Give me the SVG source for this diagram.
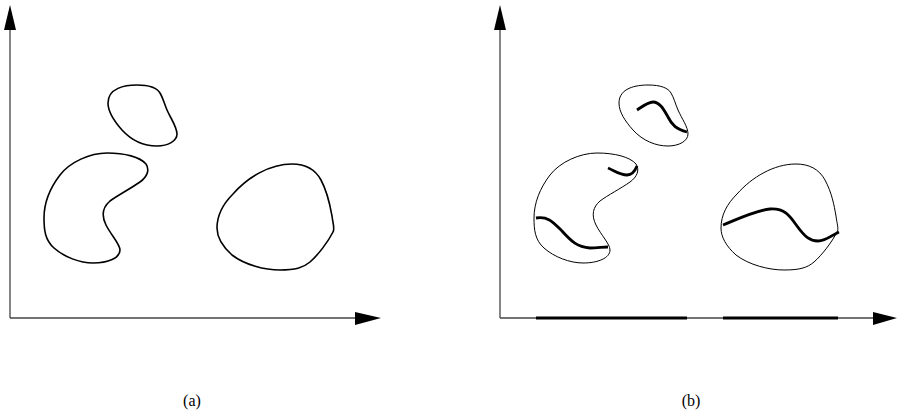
<svg xmlns="http://www.w3.org/2000/svg" width="897" height="420" viewBox="0 0 897 420">
<defs>
<style>
.axis{stroke:#444;stroke-width:1.3;fill:none}
.head{fill:#000;stroke:none}
.blobA{fill:none;stroke:#000;stroke-width:1.6}
.blobB{fill:none;stroke:#000;stroke-width:1}
.thick{fill:none;stroke:#000;stroke-width:2.8;stroke-linecap:butt}
.lbl{font-family:"Liberation Serif","DejaVu Serif",serif;font-size:16px;fill:#000;text-anchor:middle}
</style>
<path id="small" d="M108,103 C108,88 125,85 137,85 C150,85 157,88 160,93 C163,98 164,103 167,110 C171,119 177,127 177,134 C177,141 168,146 157,146 C145,146 132,141 122,130 C114,121 108,112 108,103 Z"/>
<path id="kidney" d="M107,153 C125,153 140,157 146,164 C150,170 147,177 140,182 C130,189 118,195 110,201 C103,207 101,215 106,225 C111,235 120,244 120,250 C120,258 108,263 93,263 C80,263 64,257 54,248 C45,240 44,230 44,218 C44,203 50,188 60,175 C70,162 90,153 107,153 Z"/>
<path id="round" d="M292,164 C305,164 315,169 321,180 C328,193 330,205 332,216 C333,224 335,229 333,232 C328,242 318,255 310,262 C303,268 295,270 280,270 C265,270 245,265 232,255 C222,246 217,237 217,228 C217,215 223,204 233,194 C248,177 270,164 292,164 Z"/>
</defs>
<rect width="897" height="420" fill="#fff"/>
<g id="axes-a">
<line class="axis" x1="10" y1="318" x2="10" y2="25"/>
<polygon class="head" points="10,5 4,30 16,30"/>
<line class="axis" x1="10" y1="318" x2="360" y2="318"/>
<polygon class="head" points="381,318 355,312 355,325"/>
</g>
<g id="blob-a1"><use href="#small" class="blobA"/></g>
<g id="blob-a2"><use href="#kidney" class="blobA"/></g>
<g id="blob-a3"><use href="#round" class="blobA"/></g>
<g id="axes-b">
<line class="axis" x1="500" y1="318" x2="500" y2="25"/>
<polygon class="head" points="500,5 494,30 506,30"/>
<line class="axis" x1="500" y1="318" x2="878" y2="318"/>
<polygon class="head" points="897,318 873,312 873,325"/>
</g>
<g id="blob-b1"><use href="#small" class="blobB" transform="translate(511,0)"/>
<path class="thick" d="M637,110 C643,106 648,102 653,102 C660,102 664,110 668,117 C672,125 676,129 687,132"/></g>
<g id="blob-b2"><use href="#kidney" class="blobB" transform="translate(490,0)"/>
<path class="thick" d="M608,168 C615,171 620,175 627,175 C632,175 635,171 637,166"/>
<path class="thick" d="M536,218 C548,216 553,222 562,231 C571,241 577,247 590,248 C597,248 603,247 608,247"/></g>
<g id="blob-b3"><use href="#round" class="blobB" transform="translate(504,0)"/>
<path class="thick" d="M723,225 C740,218 757,210 770,209 C785,208 790,216 797,226 C805,237 810,241 818,241 C826,241 832,235 839,232"/></g>
<g id="connectors">
<line class="thick" x1="536" y1="318" x2="687" y2="318"/>
<line class="thick" x1="723" y1="318" x2="838" y2="318"/>
</g>
<text class="lbl" x="192" y="406">(a)</text>
<text class="lbl" x="691" y="406">(b)</text>
</svg>
